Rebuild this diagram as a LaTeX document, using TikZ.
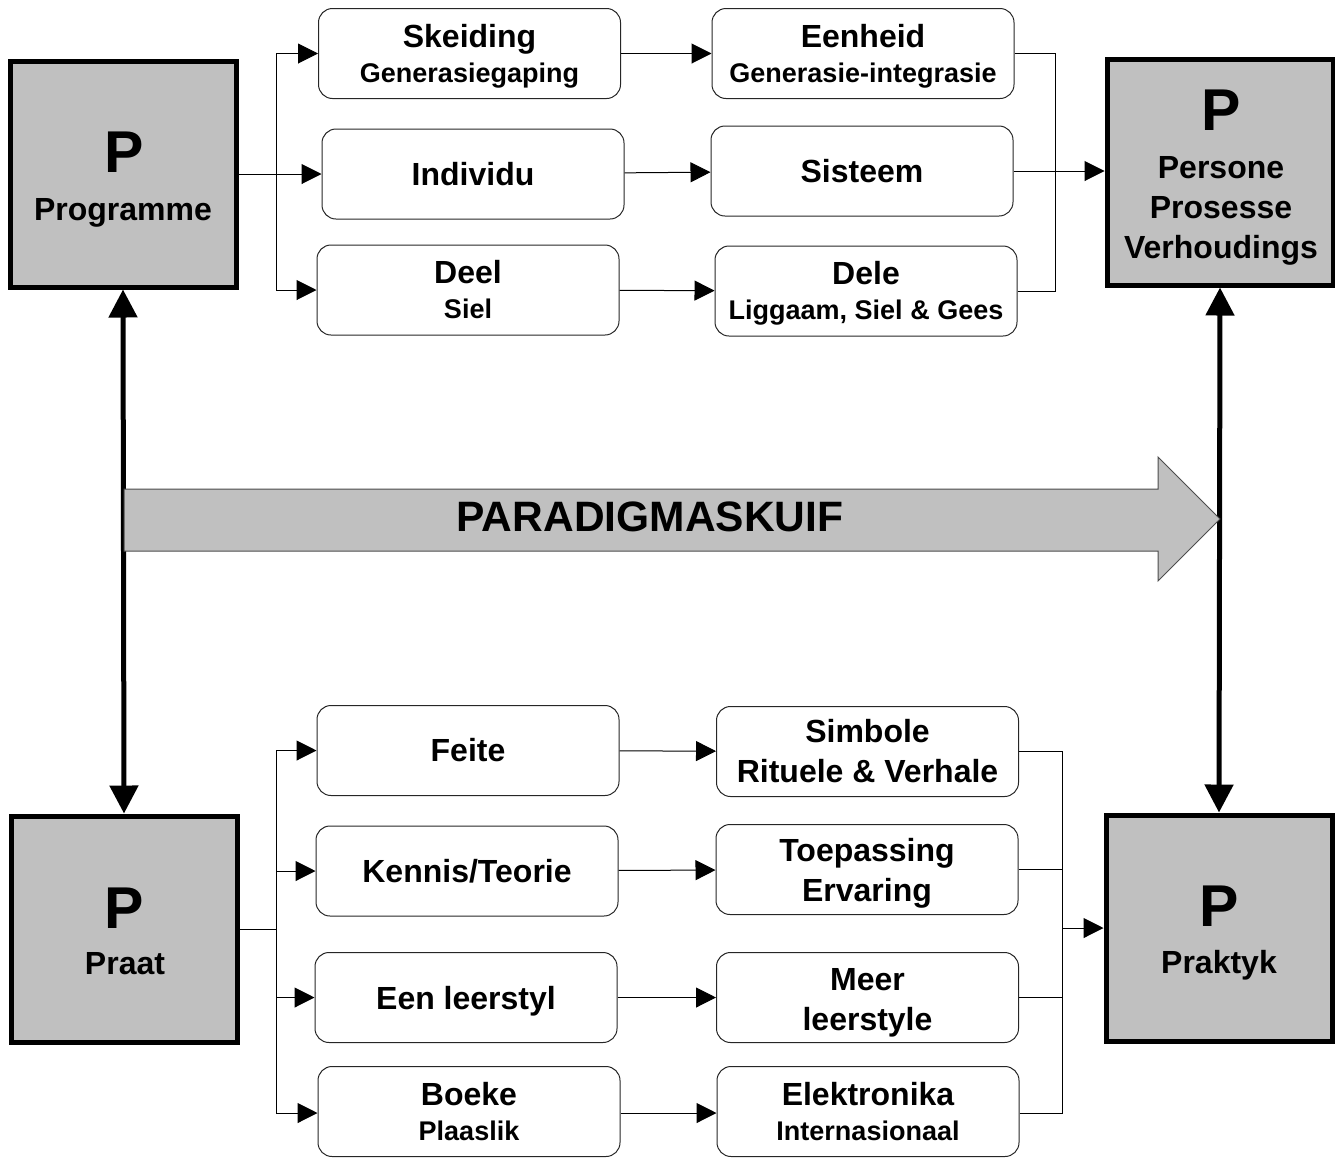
\documentclass[tikz,border=0pt]{standalone}
\usepackage{fontspec}
\setmainfont{Liberation Sans}
\usetikzlibrary{arrows.meta}
\definecolor{boxgray}{HTML}{C0C0C0}
\newcommand\subtxt[1]{{\fontsize{27}{35}\selectfont #1}}
\newcommand\lift[1]{\rule{0pt}{#1}}
\begin{document}
\begin{tikzpicture}[x=1pt,y=-1pt,
  bigbox/.style={draw=black, line width=5pt, fill=boxgray, minimum width=226pt, minimum height=226pt, inner sep=0pt},
  smallbox/.style={draw=black!85, line width=1pt, rounded corners=14pt, minimum width=302pt, minimum height=90pt, align=center, inner sep=0pt, font=\bfseries\fontsize{32}{35}\selectfont},
  twolarge/.style={font=\bfseries\fontsize{32}{40}\selectfont},
  pletter/.style={font=\bfseries\fontsize{59}{59}\selectfont, anchor=base, inner sep=0pt},
  btxt/.style={font=\bfseries\fontsize{32}{32}\selectfont, anchor=base, inner sep=0pt},
  conn/.style={line width=1pt, -{Triangle[length=20pt,width=20pt]}},
  link/.style={line width=1pt},
  bigarrow/.style={line width=5pt, {Triangle[length=28pt,width=28pt]}-{Triangle[length=28pt,width=28pt]}},
  blockarrow/.style={draw=black!70, line width=1pt, fill=boxgray}
]
\useasboundingbox (0,0) rectangle (1335,1157);

% big boxes
\node[bigbox] (prog) at (123,174) {};
\node[bigbox] (pers) at (1220,172) {};
\node[bigbox] (praat) at (124,929) {};
\node[bigbox] (prak) at (1219,928) {};

\node[pletter] (progP) at (124,172) {P};
\node[btxt] (progT) at (123,220) {Programme};
\node[pletter] (persP) at (1221,130) {P};
\node[btxt] (persT1) at (1221,178) {Persone};
\node[btxt] (persT2) at (1221,218) {Prosesse};
\node[btxt] (persT3) at (1221,258) {Verhoudings};
\node[pletter] (praatP) at (124,928) {P};
\node[btxt] (praatT) at (125,974) {Praat};
\node[pletter] (prakP) at (1219,926) {P};
\node[btxt] (prakT) at (1219,973) {Praktyk};

% top small boxes
\node[smallbox] (skd) at (469.5,53.5) {\lift{29pt}Skeiding\\\subtxt{Generasiegaping}};
\node[smallbox] (ind) at (473,174) {Individu};
\node[smallbox] (deel) at (468,290) {Deel\\\subtxt{Siel}};
\node[smallbox] (een) at (863,53.5) {\lift{29pt}Eenheid\\\subtxt{Generasie-integrasie}};
\node[smallbox] (sis) at (862,171) {Sisteem};
\node[smallbox] (dele) at (866,291) {\lift{27pt}Dele\\\subtxt{Liggaam, Siel \& Gees}};

% bottom small boxes
\node[smallbox] (feite) at (468,750.5) {Feite};
\node[smallbox] (kennis) at (467,871) {Kennis/Teorie};
\node[smallbox] (eenl) at (466,997.5) {\lift{30pt}Een leerstyl};
\node[smallbox] (boeke) at (469,1111.5) {Boeke\\\subtxt{Plaaslik}};
\node[smallbox, twolarge] (simb) at (867.5,751.5) {Simbole\\Rituele \& Verhale};
\node[smallbox, twolarge] (toep) at (867,869.5) {\lift{31pt}Toepassing\\Ervaring};
\node[smallbox, twolarge] (meer) at (867.5,997.5) {\lift{33pt}Meer\\leerstyle};
\node[smallbox] (elek) at (868,1111.5) {Elektronika\\\subtxt{Internasionaal}};

% top connectors
\coordinate (tl) at (276,174);
\coordinate (tr) at (1055,171);
\draw[conn] (prog.east) -- (ind.west);
\draw[conn] (tl) |- (skd.west);
\draw[conn] (tl) |- (deel.west);
\draw[conn] (skd) -- (een);
\draw[conn] (ind) -- (sis);
\draw[conn] (deel) -- (dele);
\draw[link] (een.east) -| (tr);
\draw[link] (dele.east) -| (tr);
\draw[conn] (sis.east) -- (sis.east -| pers.west);

% bottom connectors
\coordinate (bl) at (276,929);
\coordinate (br) at (1062,928);
\draw[link] (praat.east) -- (bl);
\draw[conn] (bl) |- (feite.west);
\draw[conn] (bl) |- (kennis.west);
\draw[conn] (bl) |- (eenl.west);
\draw[conn] (bl) |- ([yshift=-1.5pt]boeke.west);
\draw[conn] (feite) -- (simb);
\draw[conn] (kennis) -- (toep);
\draw[conn] (eenl) -- (meer);
\draw[conn] ([yshift=-1.5pt]boeke.east) -- ([yshift=-1.5pt]elek.west);
\draw[link] (simb.east) -| (br);
\draw[link] (toep.east) -| (br);
\draw[link] (meer.east) -| (br);
\draw[link] ([yshift=-1.5pt]elek.east) -| (br);
\draw[conn] (br) -- (prak.west);

% thick vertical arrows
\draw[bigarrow] (prog.south) -- (praat.north);
\draw[bigarrow] (pers.south) -- (prak.north);

% block arrow
\draw[blockarrow] (124,489) -- (1158,489) -- (1158,457) -- (1220,519) -- (1158,581) -- (1158,551) -- (124,551) -- cycle;
\node[font=\bfseries\fontsize{42.5}{42.5}\selectfont, inner sep=0pt] (shift) at (650,517) {PARADIGMASKUIF};
\end{tikzpicture}
\end{document}
